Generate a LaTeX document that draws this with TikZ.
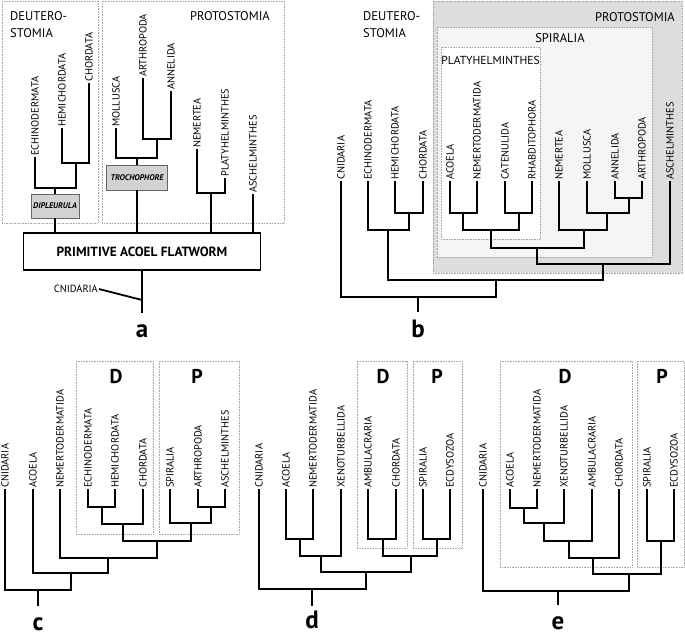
\documentclass[tikz,border=0pt]{standalone}
\usepackage{fontspec}
\setmainfont{PT Sans}
\begin{document}
\begin{tikzpicture}[x=1pt,y=-1pt,
  branch/.style={line width=1.8pt},
  leaf/.style={rotate=90, anchor=west, inner sep=1pt, font=\fontsize{10.4}{11}\selectfont},
  clade/.style={draw=gray!70, densely dotted, line width=0.6pt},
  cladename/.style={inner sep=0pt, anchor=base, font=\fontsize{12.6}{13}\selectfont},
  bigletter/.style={inner sep=0pt, anchor=base, font=\fontsize{20}{20}\selectfont\bfseries},
  panel/.style={inner sep=0pt, anchor=base, font=\fontsize{25}{25}\selectfont\bfseries},
  larva/.style={draw=gray!80!black, fill=gray!35, line width=0.6pt, inner sep=0pt,
    font=\fontsize{8.2}{9}\selectfont\bfseries\itshape}]
\useasboundingbox (0,0) rectangle (685,637);

% panel a
\draw[clade] (2,1) rectangle (98,223);
\draw[clade] (102,1) rectangle (284,223);
\node[cladename, anchor=north west, align=left, font=\fontsize{12.6}{17}\selectfont] (aDeut) at (10,11) {DEUTERO-\\STOMIA};
\node[cladename, anchor=base east] (aProt) at (270,20) {PROTOSTOMIA};
\node[leaf] (aEch) at (35,157) {ECHINODERMATA};
\node[leaf] (aHem) at (62,128) {HEMICHORDATA};
\node[leaf] (aCho) at (89,83) {CHORDATA};
\node[leaf] (aMol) at (116,128) {MOLLUSCA};
\node[leaf] (aArt) at (143,78) {ARTHROPODA};
\node[leaf] (aAnn) at (171,91) {ANNELIDA};
\node[leaf] (aNem) at (197,149) {NEMERTEA};
\node[leaf] (aPla) at (225,178) {PLATYHELMINTHES};
\node[leaf] (aAsc) at (253,194) {ASCHELMINTHES};
\node[larva, minimum width=48pt, minimum height=24pt] (dipl) at (55,206) {DIPLEURULA};
\node[larva, minimum width=61pt, minimum height=25pt] (troch) at (137,177.5) {TROCHOPHORE};
\node[draw, line width=1.8pt, minimum width=237pt, minimum height=37pt,
  font=\fontsize{13.3}{14}\selectfont\bfseries] (prim) at (142,251.5) {PRIMITIVE ACOEL FLATWORM};
\coordinate (a1) at (76,163);
\coordinate (a2) at (55,188);
\coordinate (a3) at (157,139);
\coordinate (a4) at (137,158);
\coordinate (a5) at (211,193);
\draw[branch] (aHem.west) |- (a1) -| (aCho.west);
\draw[branch] (aEch.west) |- (a2) -| (a1);
\draw[branch] (a2) -- (dipl.north);
\draw[branch] (dipl.south) -- (dipl.south |- prim.north);
\draw[branch] (aArt.west) |- (a3) -| (aAnn.west);
\draw[branch] (aMol.west) |- (a4) -| (a3);
\draw[branch] (a4) -- (troch.north);
\draw[branch] (troch.south) -- (troch.south |- prim.north);
\draw[branch] (aNem.west) |- (a5) -| (aPla.west);
\draw[branch] (a5) -- (a5 |- prim.north);
\draw[branch] (aAsc.west) -- (aAsc.west |- prim.north);
\node[anchor=east, inner sep=1pt, font=\fontsize{10.4}{11}\selectfont] (aCni) at (99,289) {CNIDARIA};
\coordinate (aJoin) at (142,300);
\coordinate (aRoot) at (142,313);
\draw[branch] (prim.south) -- (aRoot);
\draw[branch] (aCni.east) -- (aJoin);
\node[panel] (aLab) at (142,337) {a};

% panel b
\draw[clade, fill=gray!27] (433,1) rectangle (682,273);
\draw[clade, fill=gray!8] (437,27) rectangle (652,257);
\draw[clade, fill=white] (441,47) rectangle (540,239);
\node[cladename, anchor=north west, align=left, font=\fontsize{12.6}{17}\selectfont] (bDeut) at (363,11) {DEUTERO-\\STOMIA};
\node[cladename, anchor=base east] (bProt) at (675,21) {PROTOSTOMIA};
\node[cladename] (bSpir) at (560,42) {SPIRALIA};
\node[cladename, font=\fontsize{11.6}{12}\selectfont] (bPlat) at (490.5,64) {PLATYHELMINTHES};
\node[leaf] (bCni) at (341,181) {CNIDARIA};
\node[leaf] (bEch) at (368,181) {ECHINODERMATA};
\node[leaf] (bHem) at (395,181) {HEMICHORDATA};
\node[leaf] (bCho) at (423,181) {CHORDATA};
\node[leaf] (bAco) at (450,181) {ACOELA};
\node[leaf] (bNemd) at (477,181) {NEMERTODERMATIDA};
\node[leaf] (bCat) at (505,181) {CATENULIDA};
\node[leaf] (bRha) at (532,181) {RHABDITOPHORA};
\node[leaf] (bNem) at (559,181) {NEMERTEA};
\node[leaf] (bMol) at (587,181) {MOLLUSCA};
\node[leaf] (bAnn) at (615,181) {ANNELIDA};
\node[leaf] (bArt) at (642,181) {ARTHROPODA};
\node[leaf] (bAsc) at (670,181) {ASCHELMINTHES};
\coordinate (b1) at (409,213);
\coordinate (b2) at (388,230);
\coordinate (b3) at (463,213);
\coordinate (b4) at (519,213);
\coordinate (b5) at (491,230);
\coordinate (b6) at (629,198);
\coordinate (b7) at (607,213);
\coordinate (b8) at (584,230);
\coordinate (b9) at (537,248);
\coordinate (b10) at (603,264);
\coordinate (b11) at (496,280);
\coordinate (b12) at (418,297);
\coordinate (bRoot) at (418,312);
\draw[branch] (bHem.west) |- (b1) -| (bCho.west);
\draw[branch] (bEch.west) |- (b2) -| (b1);
\draw[branch] (bAco.west) |- (b3) -| (bNemd.west);
\draw[branch] (bCat.west) |- (b4) -| (bRha.west);
\draw[branch] (b3) |- (b5) -| (b4);
\draw[branch] (bAnn.west) |- (b6) -| (bArt.west);
\draw[branch] (bMol.west) |- (b7) -| (b6);
\draw[branch] (bNem.west) |- (b8) -| (b7);
\draw[branch] (b5) |- (b9) -| (b8);
\draw[branch] (b9) |- (b10) -| (bAsc.west);
\draw[branch] (b2) |- (b11) -| (b10);
\draw[branch] (bCni.west) |- (b12) -| (b11);
\draw[branch] (b12) -- (bRoot);
\node[panel] (bLab) at (418,337) {b};

% panel c
\draw[clade] (76,361) rectangle (153,534);
\draw[clade] (159,361) rectangle (239,534);
\node[bigletter] (cD) at (116,383) {D};
\node[bigletter] (cP) at (197,383) {P};
\node[leaf] (cCni) at (5,489) {CNIDARIA};
\node[leaf] (cAco) at (33,489) {ACOELA};
\node[leaf] (cNemd) at (60,489) {NEMERTODERMATIDA};
\node[leaf] (cEch) at (88,489) {ECHINODERMATA};
\node[leaf] (cHem) at (115,489) {HEMICHORDATA};
\node[leaf] (cCho) at (143,489) {CHORDATA};
\node[leaf] (cSpi) at (170,489) {SPIRALIA};
\node[leaf] (cArt) at (198,489) {ARTHROPODA};
\node[leaf] (cAsc) at (225,489) {ASCHELMINTHES};
\coordinate (c1) at (102,507);
\coordinate (c2) at (123,524);
\coordinate (c3) at (211,507);
\coordinate (c4) at (191,523);
\coordinate (c5) at (157,541);
\coordinate (c6) at (108,558);
\coordinate (c7) at (71,573);
\coordinate (c8) at (38,590);
\coordinate (cRoot) at (38,606);
\draw[branch] (cEch.west) |- (c1) -| (cHem.west);
\draw[branch] (c1) |- (c2) -| (cCho.west);
\draw[branch] (cArt.west) |- (c3) -| (cAsc.west);
\draw[branch] (cSpi.west) |- (c4) -| (c3);
\draw[branch] (c2) |- (c5) -| (c4);
\draw[branch] (cNemd.west) |- (c6) -| (c5);
\draw[branch] (cAco.west) |- (c7) -| (c6);
\draw[branch] (cCni.west) |- (c8) -| (c7);
\draw[branch] (c8) -- (cRoot);
\node[panel] (cLab) at (38,630) {c};

% panel d
\draw[clade] (357,361) rectangle (407,548);
\draw[clade] (413,361) rectangle (462,548);
\node[bigletter] (dD) at (383,383) {D};
\node[bigletter] (dP) at (437,383) {P};
\node[leaf] (dCni) at (259,489) {CNIDARIA};
\node[leaf] (dAco) at (286,489) {ACOELA};
\node[leaf] (dNemd) at (313,489) {NEMERTODERMATIDA};
\node[leaf] (dXen) at (341,489) {XENOTURBELLIDA};
\node[leaf] (dAmb) at (368,489) {AMBULACRARIA};
\node[leaf] (dCho) at (396,489) {CHORDATA};
\node[leaf] (dSpi) at (423,489) {SPIRALIA};
\node[leaf] (dEcd) at (450,489) {ECDYSOZOA};
\coordinate (d1) at (300,539);
\coordinate (d2) at (321,556);
\coordinate (d3) at (383,539);
\coordinate (d4) at (437,539);
\coordinate (d5) at (411,556);
\coordinate (d6) at (366,572);
\coordinate (d7) at (312,589);
\coordinate (dRoot) at (312,606);
\draw[branch] (dAco.west) |- (d1) -| (dNemd.west);
\draw[branch] (d1) |- (d2) -| (dXen.west);
\draw[branch] (dAmb.west) |- (d3) -| (dCho.west);
\draw[branch] (dSpi.west) |- (d4) -| (dEcd.west);
\draw[branch] (d3) |- (d5) -| (d4);
\draw[branch] (d2) |- (d6) -| (d5);
\draw[branch] (dCni.west) |- (d7) -| (d6);
\draw[branch] (d7) -- (dRoot);
\node[panel] (dLab) at (312,628) {d};

% panel e
\draw[clade] (500,361) rectangle (632,567);
\draw[clade] (637,361) rectangle (684,567);
\node[bigletter] (eD) at (565,383) {D};
\node[bigletter] (eP) at (662,383) {P};
\node[leaf] (eCni) at (483,489) {CNIDARIA};
\node[leaf] (eAco) at (510,489) {ACOELA};
\node[leaf] (eNemd) at (537,489) {NEMERTODERMATIDA};
\node[leaf] (eXen) at (564,489) {XENOTURBELLIDA};
\node[leaf] (eAmb) at (592,489) {AMBULACRARIA};
\node[leaf] (eCho) at (619,489) {CHORDATA};
\node[leaf] (eSpi) at (647,489) {SPIRALIA};
\node[leaf] (eEcd) at (674,489) {ECDYSOZOA};
\coordinate (e1) at (524,508);
\coordinate (e2) at (544,523);
\coordinate (e3) at (569,541);
\coordinate (e4) at (593,558);
\coordinate (e5) at (661,541);
\coordinate (e6) at (629,574);
\coordinate (e7) at (558,591);
\coordinate (eRoot) at (558,605);
\draw[branch] (eAco.west) |- (e1) -| (eNemd.west);
\draw[branch] (e1) |- (e2) -| (eXen.west);
\draw[branch] (e2) |- (e3) -| (eAmb.west);
\draw[branch] (e3) |- (e4) -| (eCho.west);
\draw[branch] (eSpi.west) |- (e5) -| (eEcd.west);
\draw[branch] (e4) |- (e6) -| (e5);
\draw[branch] (eCni.west) |- (e7) -| (e6);
\draw[branch] (e7) -- (eRoot);
\node[panel] (eLab) at (558,629) {e};
\end{tikzpicture}
\end{document}
